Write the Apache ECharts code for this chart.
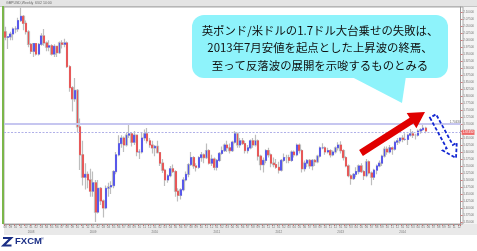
<!DOCTYPE html>
<html><head><meta charset="utf-8">
<script src="https://cdn.jsdelivr.net/npm/echarts@6/dist/echarts.min.js"></script>
<style>html,body{margin:0;padding:0;background:#fff}#c{width:477px;height:251px}</style>
</head><body><div id="c"></div>
<script>
// Semi-monthly GBP/USD candles, Aug 2007 .. May 2014
const openP = [
2.030,2.010,2.012,2.022,2.040,2.040,2.070,2.085,2.060,2.030,
1.985,1.960,1.988,1.950,1.985,2.015,1.990,1.975,1.980,1.950,1.978,1.955,1.990,1.985,1.990,1.905,1.830,1.790,1.820,1.690,1.590,1.510,1.520,1.500,
1.460,1.490,1.385,1.470,1.425,1.400,1.470,1.475,1.480,1.530,1.590,1.630,1.650,1.625,1.660,1.665,1.635,1.660,1.600,1.600,1.650,1.665,1.640,1.625,
1.615,1.620,1.598,1.560,1.535,1.500,1.515,1.540,1.530,1.460,1.445,1.465,1.500,1.520,1.555,1.580,1.550,1.545,1.580,1.590,1.580,1.605,1.560,1.575,
1.545,1.570,1.595,1.605,1.625,1.615,1.605,1.635,1.665,1.625,1.640,1.630,1.605,1.615,1.640,1.625,1.640,1.585,1.555,1.570,1.605,1.590,1.560,1.555,
1.545,1.535,1.570,1.580,1.580,1.570,1.600,1.590,1.625,1.605,1.540,1.560,1.570,1.550,1.570,1.565,1.585,1.615,1.615,1.600,1.605,1.590,1.600,1.615,
1.625,1.605,1.580,1.550,1.515,1.505,1.520,1.530,1.550,1.530,1.515,1.565,1.525,1.510,1.535,1.550,1.560,1.585,1.610,1.600,1.615,1.610,1.635,1.640,
1.650,1.645,1.645,1.660,1.665,1.660,1.660,1.675,1.680,1.685];
const highP = [
2.048,2.015,2.030,2.045,2.050,2.080,2.116,2.090,2.070,2.035,
1.990,1.990,1.990,1.990,2.025,2.040,1.995,2.000,1.985,1.985,1.980,1.995,2.000,2.005,1.995,1.910,1.835,1.865,1.825,1.720,1.640,1.560,1.530,1.540,
1.530,1.500,1.500,1.475,1.430,1.480,1.490,1.495,1.535,1.600,1.660,1.660,1.655,1.670,1.704,1.670,1.675,1.662,1.610,1.670,1.680,1.686,1.650,1.640,
1.625,1.640,1.600,1.575,1.540,1.520,1.550,1.555,1.535,1.470,1.470,1.510,1.530,1.560,1.600,1.585,1.560,1.585,1.600,1.595,1.630,1.610,1.590,1.580,
1.575,1.600,1.620,1.630,1.640,1.630,1.640,1.675,1.670,1.650,1.650,1.640,1.625,1.645,1.650,1.662,1.645,1.590,1.580,1.610,1.615,1.595,1.580,1.575,
1.565,1.575,1.595,1.590,1.590,1.605,1.605,1.630,1.630,1.610,1.570,1.575,1.575,1.575,1.575,1.590,1.620,1.631,1.620,1.615,1.610,1.605,1.620,1.635,
1.638,1.610,1.585,1.555,1.520,1.525,1.545,1.555,1.560,1.535,1.575,1.570,1.530,1.540,1.555,1.570,1.590,1.620,1.620,1.625,1.620,1.640,1.650,1.650,
1.660,1.667,1.665,1.682,1.675,1.665,1.680,1.685,1.700,1.690];
const lowP = [
2.000,1.968,2.000,2.000,2.025,2.030,2.065,2.035,2.020,1.975,
1.950,1.940,1.945,1.945,1.980,1.980,1.960,1.960,1.945,1.940,1.940,1.950,1.970,1.975,1.900,1.815,1.745,1.780,1.670,1.536,1.480,1.466,1.470,1.440,
1.440,1.350,1.380,1.410,1.366,1.395,1.440,1.450,1.470,1.520,1.585,1.615,1.600,1.620,1.650,1.620,1.625,1.585,1.575,1.595,1.640,1.630,1.615,1.595,
1.585,1.595,1.550,1.525,1.478,1.490,1.510,1.525,1.440,1.423,1.430,1.460,1.495,1.510,1.550,1.540,1.530,1.540,1.565,1.560,1.575,1.555,1.550,1.535,
1.534,1.565,1.590,1.600,1.600,1.595,1.600,1.630,1.615,1.615,1.625,1.595,1.595,1.610,1.615,1.620,1.570,1.535,1.527,1.560,1.580,1.545,1.545,1.540,
1.523,1.530,1.565,1.560,1.560,1.565,1.580,1.585,1.595,1.527,1.530,1.545,1.540,1.535,1.550,1.560,1.580,1.610,1.590,1.595,1.580,1.585,1.595,1.605,
1.595,1.570,1.545,1.510,1.483,1.500,1.510,1.520,1.525,1.500,1.510,1.520,1.481,1.500,1.520,1.545,1.550,1.580,1.590,1.595,1.590,1.605,1.625,1.630,
1.635,1.640,1.625,1.655,1.650,1.645,1.655,1.665,1.675,1.667];
const closeP = [
2.010,2.012,2.022,2.040,2.040,2.070,2.085,2.060,2.030,1.985,
1.960,1.988,1.950,1.985,2.015,1.990,1.975,1.980,1.950,1.978,1.955,1.990,1.985,1.990,1.905,1.830,1.790,1.820,1.690,1.590,1.510,1.520,1.500,1.460,
1.490,1.385,1.470,1.425,1.400,1.470,1.475,1.480,1.530,1.590,1.630,1.650,1.625,1.660,1.665,1.635,1.660,1.600,1.600,1.650,1.665,1.640,1.625,1.615,
1.620,1.598,1.560,1.535,1.500,1.515,1.540,1.530,1.460,1.445,1.465,1.500,1.520,1.555,1.580,1.550,1.545,1.580,1.590,1.580,1.605,1.560,1.575,1.545,
1.570,1.595,1.605,1.625,1.615,1.605,1.635,1.665,1.625,1.640,1.630,1.605,1.615,1.640,1.625,1.640,1.585,1.555,1.570,1.605,1.590,1.560,1.555,1.545,
1.535,1.570,1.580,1.580,1.570,1.600,1.590,1.625,1.605,1.540,1.560,1.570,1.550,1.570,1.565,1.585,1.615,1.615,1.600,1.605,1.590,1.600,1.615,1.625,
1.605,1.580,1.550,1.515,1.505,1.520,1.530,1.550,1.530,1.515,1.565,1.525,1.510,1.535,1.550,1.560,1.585,1.610,1.600,1.615,1.610,1.635,1.640,1.650,
1.645,1.645,1.660,1.665,1.660,1.660,1.675,1.680,1.685,1.675];

const yTicks = [1.35,1.375,1.40,1.425,1.45,1.475,1.50,1.525,1.55,1.575,1.60,1.625,1.65,1.675,1.70,1.725,1.75,1.775,1.80,1.825,1.85,1.875,1.90,1.925,1.95,1.975,2.00,2.025,2.05,2.075,2.10];
const resistanceLevel = 1.7043;
const currentLevel = 1.6745;
const calloutLines = ['英ポンド/米ドルの1.7ドル大台乗せの失敗は、','2013年7月安値を起点とした上昇波の終焉、','至って反落波の展開を示唆するものとみる'];
const titleText = 'GBPUSD,Weekly  6/02 14:00';

// categories: semi-monthly slots, incl. empty slots on the right
const SLOTS = 177;
const categories = [];
for (let i = 0; i < SLOTS; i++) {
  const m = 7 + Math.floor(i / 2);
  const y = 2007 + Math.floor(m / 12);
  const mm = (m % 12) + 1;
  categories.push(y + '-' + String(mm).padStart(2, '0') + (i % 2 ? '-16' : '-01'));
}
const ohlc = openP.map((o, i) => [o, closeP[i], lowP[i], highP[i]]);
const bodies = openP.map((o, i) => [o, closeP[i], Math.min(o, closeP[i]), Math.max(o, closeP[i])]);

function arrowPts(x1, y1, x2, y2, sw, hw, hl) {
  const dx = x2 - x1, dy = y2 - y1, L = Math.hypot(dx, dy);
  const ux = dx / L, uy = dy / L, px = -uy, py = ux;
  const bx = x2 - ux * hl, by = y2 - uy * hl;
  return [[x1 + px * sw / 2, y1 + py * sw / 2], [bx + px * sw / 2, by + py * sw / 2], [bx + px * hw / 2, by + py * hw / 2],
          [x2, y2], [bx - px * hw / 2, by - py * hw / 2], [bx - px * sw / 2, by - py * sw / 2], [x1 - px * sw / 2, y1 - py * sw / 2]];
}

const chart = echarts.init(document.getElementById('c'), null, {renderer: 'canvas'});
const small = 'Liberation Sans';
chart.setOption({
  animation: false,
  backgroundColor: '#fff',
  grid: {left: 4, right: 14, top: 7, bottom: 27, containLabel: false},
  xAxis: [{
    type: 'category', data: categories, boundaryGap: true, position: 'bottom',
    axisLine: {lineStyle: {color: '#999', width: 1}},
    axisTick: {show: true, interval: (i) => i % 2 === 0, length: 2, lineStyle: {color: '#d08080'}},
    axisLabel: {interval: (i) => i % 2 === 0, formatter: (v) => v.slice(5, 7), fontSize: 3, color: '#777', margin: 2, fontFamily: small},
    splitLine: {show: false}
  }, {
    type: 'category', data: categories, boundaryGap: true, position: 'bottom',
    axisLine: {show: false}, axisTick: {show: false},
    axisLabel: {interval: (i) => categories[i].slice(5) === '01-01', formatter: (v) => v.slice(0, 4), fontSize: 3, color: '#777', margin: 6.5, fontFamily: small},
    splitLine: {show: false}
  }],
  yAxis: {
    type: 'value', position: 'right', min: 1.3425, max: 2.1185, scale: true,
    axisLine: {show: true, lineStyle: {color: '#999'}},
    axisTick: {show: true, customValues: yTicks, length: 2, lineStyle: {color: '#d08080'}},
    axisLabel: {customValues: yTicks, formatter: (v) => v.toFixed(5), fontSize: 3, color: '#777', margin: 2.5, fontFamily: small},
    splitLine: {show: false}
  },
  series: [{
    type: 'candlestick', name: 'range', data: ohlc, barWidth: 2, xAxisIndex: 0,
    itemStyle: {color: '#bdbdbd', color0: '#bdbdbd', borderColor: '#bdbdbd', borderColor0: '#bdbdbd', borderWidth: 1.2},
    silent: true
  }, {
    type: 'candlestick', name: 'body', data: bodies, barWidth: 1.4, xAxisIndex: 0,
    itemStyle: {color: '#3f3ff5', color0: '#f23f3f', borderColor: '#3f3ff5', borderColor0: '#f23f3f', borderWidth: 0.6},
    silent: true,
    markLine: {
      symbol: 'none', silent: true, animation: false,
      data: [
        {yAxis: resistanceLevel, lineStyle: {color: '#c6c6f0', width: 2, type: 'solid'},
         label: {show: true, position: 'insideEndTop', formatter: resistanceLevel.toFixed(5), fontSize: 3, color: '#666', distance: 0, fontFamily: small}},
        {yAxis: currentLevel, lineStyle: {color: '#b0b0e8', width: 1, type: [2, 1.5]},
         label: {show: true, position: 'end', formatter: currentLevel.toFixed(5), fontSize: 3, color: '#fff', backgroundColor: '#ee6a6a', padding: [1, 1], distance: 1, fontFamily: small}}
      ]
    }
  }],
  graphic: [
    {type: 'rect', z: -10, shape: {x: 0, y: 0, width: 477, height: 6}, style: {fill: '#e4e4e4'}},
    {type: 'line', z: -9, shape: {x1: 0, y1: 6.5, x2: 477, y2: 6.5}, style: {stroke: '#c4c4c4', lineWidth: 1}},
    {type: 'text', z: -8, x: 6, y: 1.2, style: {text: titleText, font: '3.5px "Liberation Sans"', fill: '#666'}},
    {type: 'rect', z: -10, shape: {x: 4, y: 224, width: 473, height: 11}, style: {fill: '#e9e9e9'}},
    {type: 'rect', z: -10, shape: {x: 463, y: 7, width: 14, height: 217}, style: {fill: '#f4f4f4'}},
    {type: 'rect', z: -5, shape: {x: 4, y: 7, width: 459, height: 217}, style: {fill: 'none', stroke: '#a8a8a8', lineWidth: 1}},
    {type: 'rect', z: -5, shape: {x: 2, y: 6, width: 2, height: 218}, style: {fill: '#7bb64a'}},
    // callout bubble
    {type: 'polygon', z: 50, shape: {points: [[350, 76], [406, 76], [402, 103]]}, style: {fill: '#8ef3fb'}},
    {type: 'rect', z: 50, shape: {x: 192, y: 15, width: 256, height: 63, r: 12}, style: {fill: '#8ef3fb'}},
    {type: 'text', z: 51, x: 320, y: 31, style: {text: calloutLines[0], font: '11.4px "Noto Sans CJK JP"', fill: '#111', textAlign: 'center', textVerticalAlign: 'middle'}},
    {type: 'text', z: 51, x: 320, y: 48, style: {text: calloutLines[1], font: '11.4px "Noto Sans CJK JP"', fill: '#111', textAlign: 'center', textVerticalAlign: 'middle'}},
    {type: 'text', z: 51, x: 320, y: 65.5, style: {text: calloutLines[2], font: '11.4px "Noto Sans CJK JP"', fill: '#111', textAlign: 'center', textVerticalAlign: 'middle'}},
    // arrows
    {type: 'polygon', z: 60, shape: {points: arrowPts(361, 153, 425, 112, 7, 18, 16)}, style: {fill: '#e00000'}},
    {type: 'polygon', z: 60, shape: {points: arrowPts(433, 116, 456, 158, 7, 16, 13)}, style: {fill: 'none', stroke: '#1428d2', lineWidth: 1.8, lineDash: [3.5, 2]}},
    // FXCM logo
    {type: 'polyline', z: 60, shape: {points: [[3, 238], [11, 238], [3.5, 245.5], [11.5, 245.5]]}, style: {stroke: '#1b2f86', lineWidth: 2.2, fill: 'none'}},
    {type: 'text', z: 60, x: 15, y: 241.5, style: {text: 'FXCM', font: 'bold 9.5px "Liberation Sans"', fill: '#1b2f86', textVerticalAlign: 'middle'}},
    {type: 'text', z: 60, x: 41, y: 237, style: {text: '®', font: '4px "Liberation Sans"', fill: '#1b2f86'}}
  ]
});
</script>
</body></html>
